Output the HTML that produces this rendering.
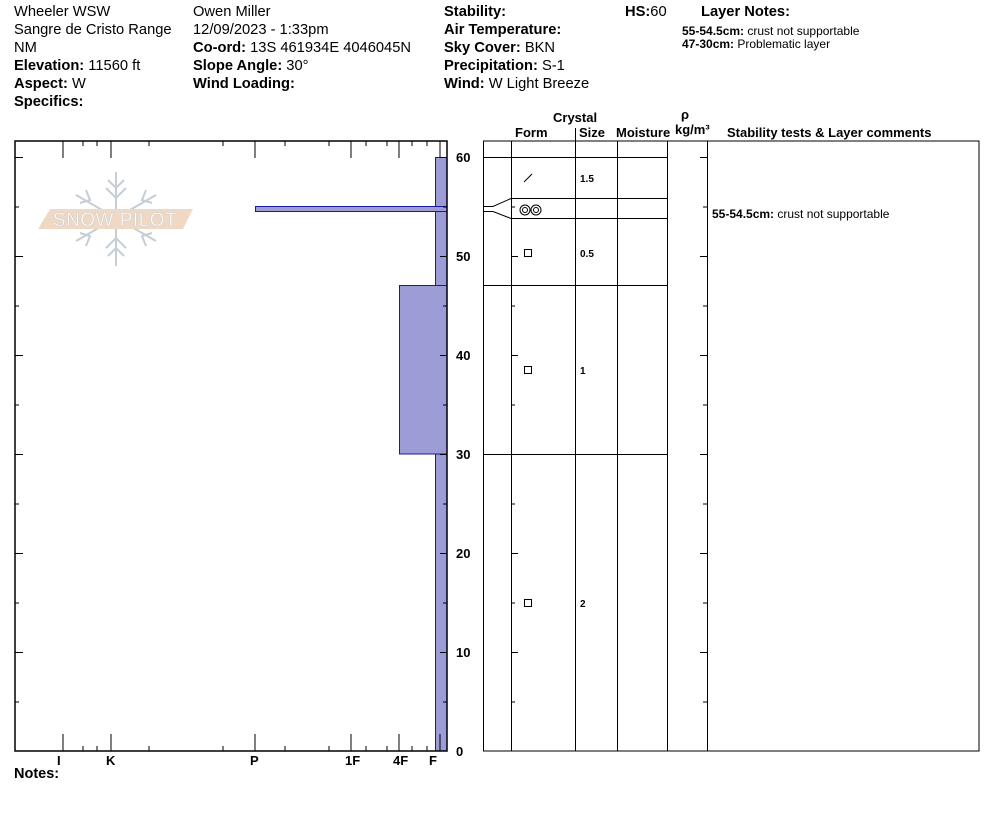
<!DOCTYPE html>
<html><head><meta charset="utf-8"><style>
html,body{margin:0;padding:0;background:#fff;}
svg{display:block;font-family:"Liberation Sans",Arial,sans-serif;}
.b{font-weight:bold;}
</style></head><body>
<svg width="994" height="840" viewBox="0 0 994 840" xmlns="http://www.w3.org/2000/svg">
<g font-size="14.7" fill="#000">
<text x="14" y="16">Wheeler WSW</text>
<text x="14" y="34">Sangre de Cristo Range</text>
<text x="14" y="52">NM</text>
<text x="14" y="70"><tspan class="b">Elevation:</tspan> 11560 ft</text>
<text x="14" y="88"><tspan class="b">Aspect:</tspan> W</text>
<text x="14" y="106" class="b">Specifics:</text>
<text x="193" y="16">Owen Miller</text>
<text x="193" y="34">12/09/2023 - 1:33pm</text>
<text x="193" y="52"><tspan class="b">Co-ord:</tspan> 13S 461934E 4046045N</text>
<text x="193" y="70"><tspan class="b">Slope Angle:</tspan> 30°</text>
<text x="193" y="88" class="b">Wind Loading:</text>
<text x="444" y="16" class="b">Stability:</text>
<text x="444" y="34" class="b">Air Temperature:</text>
<text x="444" y="52"><tspan class="b">Sky Cover:</tspan> BKN</text>
<text x="444" y="70"><tspan class="b">Precipitation:</tspan> S-1</text>
<text x="444" y="88"><tspan class="b">Wind:</tspan>  W Light Breeze</text>
<text x="625" y="16"><tspan class="b">HS:</tspan>60</text>
<text x="701" y="16" class="b">Layer Notes:</text>
</g>
<g font-size="12">
<text x="682" y="35"><tspan class="b">55-54.5cm:</tspan>  crust not supportable</text>
<text x="682" y="48"><tspan class="b">47-30cm:</tspan> Problematic layer</text>
</g>
<!-- logo -->
<g stroke="#c5cdd6" stroke-width="2" fill="none">
<line x1="116" y1="172" x2="116" y2="266"/>
<line x1="76" y1="195" x2="156" y2="241"/>
<line x1="76" y1="241" x2="156" y2="195"/>
<path d="M108 180 L116 188 L124 180 M106 188 L116 198 L126 188 M108 256 L116 248 L124 256 M106 248 L116 238 L126 248"/>
<path d="M86 190 L90 200 L80 203 M146 190 L142 200 L152 203 M86 246 L90 236 L80 233 M146 246 L142 236 L152 233"/>
</g>
<polygon points="50,209 193,209 183,229 38,229" fill="#f0d9c4"/>
<text x="115" y="226" font-size="19" fill="#fff" text-anchor="middle" letter-spacing="0.5" stroke="#c9c9c9" stroke-width="0.5">SNOW PILOT</text>
<!-- left chart bars -->
<g fill="#9c9cd6" stroke="#1a1a9a" stroke-width="1">
<rect x="435.5" y="157.5" width="11.5" height="593.5"/>
<rect x="399.5" y="285.5" width="47.5" height="168.5"/>
<rect x="255.5" y="206.5" width="191.5" height="5"/>
</g>
<rect x="15" y="141" width="432" height="610" fill="none" stroke="#000" stroke-width="1.5"/>
<g stroke="#000" stroke-width="1">
<path d="M63 141v17M111 141v17M255 141v17M351 141v17M399 141v17M440 141v17
M83 141v5M97 141v5M149 141v5M223 141v5M285 141v5M329 141v5M366 141v5M387 141v5M412 141v5M427 141v5
M63 751v-17M111 751v-17M255 751v-17M351 751v-17M399 751v-17M440 751v-17
M83 751v-5M97 751v-5M149 751v-5M223 751v-5M285 751v-5M329 751v-5M366 751v-5M387 751v-5M412 751v-5M427 751v-5"/>
<path d="M15 157.5h8M15 256.5h8M15 355.5h8M15 454.5h8M15 553.5h8M15 652.5h8
M15 207h4M15 306h4M15 405h4M15 504h4M15 603h4M15 702h4
M447 157.5h-7M447 256.5h-7M447 355.5h-7M447 454.5h-7M447 553.5h-7M447 652.5h-7
M447 207h-4M447 306h-4M447 405h-4M447 504h-4M447 603h-4M447 702h-4"/>
</g>
<g font-size="13" font-weight="bold">
<text x="456" y="162">60</text><text x="456" y="261">50</text><text x="456" y="360">40</text>
<text x="456" y="459">30</text><text x="456" y="558">20</text><text x="456" y="657">10</text>
<text x="456" y="756">0</text>
<text x="57" y="765">I</text><text x="106" y="765">K</text><text x="250" y="765">P</text>
<text x="345" y="765">1F</text><text x="393" y="765">4F</text><text x="429" y="765">F</text>
<text x="14" y="778" font-size="14.5">Notes:</text>
</g>
<!-- right table -->
<g font-size="13" font-weight="bold">
<text x="553" y="122">Crystal</text>
<text x="515" y="137">Form</text>
<text x="579" y="137">Size</text>
<text x="616" y="137">Moisture</text>
<text x="681" y="119">ρ</text>
<text x="675" y="134">kg/m³</text>
<text x="727" y="137">Stability tests &amp; Layer comments</text>
</g>
<rect x="483.5" y="141" width="495.5" height="610" fill="none" stroke="#000" stroke-width="1"/>
<g stroke="#000" stroke-width="1" fill="none">
<path d="M575.5 128v13"/>
<path d="M511.5 141v610M575.5 141v610M617.5 141v610M667.5 141v610M707.5 141v610"/>
<path d="M483 157.5h184M483 285.5h184M483 454.5h184M511 198.5h156M511 218.5h156"/>
<path d="M511 198.5L493 206.5H483M511 218.5L493 211.5H483"/>
<path d="M511 157.5h7M511 256.5h7M511 355.5h7M511 454.5h7M511 553.5h7M511 652.5h7
M511 207h4M511 306h4M511 405h4M511 504h4M511 603h4M511 702h4
M707 157.5h-7M707 256.5h-7M707 355.5h-7M707 454.5h-7M707 553.5h-7M707 652.5h-7
M707 207h-4M707 306h-4M707 405h-4M707 504h-4M707 603h-4M707 702h-4"/>
<path d="M524 182L532 174"/>
<circle cx="525" cy="210" r="5"/><circle cx="525" cy="210" r="2.5"/>
<circle cx="536" cy="210" r="5"/><circle cx="536" cy="210" r="2.5"/>
<rect x="524.5" y="249.5" width="7" height="7"/>
<rect x="524.5" y="366.5" width="7" height="7"/>
<rect x="524.5" y="599.5" width="7" height="7"/>
</g>
<g font-size="10" font-weight="bold">
<text x="580" y="182">1.5</text>
<text x="580" y="257">0.5</text>
<text x="580" y="374">1</text>
<text x="580" y="607">2</text>
</g>
<text x="712" y="218" font-size="12"><tspan font-weight="bold">55-54.5cm:</tspan>  crust not supportable</text>
</svg>
</body></html>
